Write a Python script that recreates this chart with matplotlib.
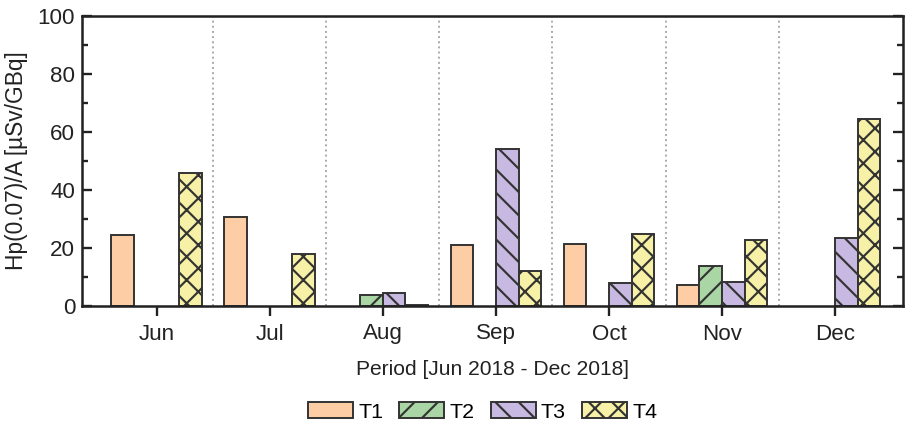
import matplotlib
matplotlib.use("Agg")
import matplotlib.pyplot as plt
from matplotlib.ticker import MultipleLocator
import numpy as np

DPI = 140
W, H = 915, 431

months = ['Jun', 'Jul', 'Aug', 'Sep', 'Oct', 'Nov', 'Dec']
series = ['T1', 'T2', 'T3', 'T4']
t1 = [24.4, 30.7, 0.0, 21.0, 21.4, 7.4, 0.0]
t2 = [0.0, 0.0, 3.8, 0.0, 0.0, 13.8, 0.0]
t3 = [0.0, 0.0, 4.4, 54.1, 7.8, 8.3, 23.6]
t4 = [45.7, 17.9, 0.5, 12.2, 24.7, 22.9, 64.6]

COLORS = ['#FDCDA5', '#A9D6A4', '#C8B9E2', '#F6F1A6']
HATCHES = ['', '//', '\\\\', 'xx']

plt.rcParams['font.family'] = ['Liberation Sans', 'DejaVu Sans']
plt.rcParams['hatch.linewidth'] = 1.1
plt.rcParams['hatch.color'] = '#222222'

fig = plt.figure(figsize=(W / DPI, H / DPI), dpi=DPI)
ax = fig.add_axes([82 / W, 1 - 306 / H, (903 - 82) / W, (306 - 16) / H])

x = np.arange(len(months))
width = 0.2
for k, (name, vals) in enumerate(zip(series, [t1, t2, t3, t4])):
    vals = np.array(vals)
    keep = vals > 0  # empty bars are not drawn in the original
    ax.bar(x[keep] + (k - 1.5) * width, vals[keep], width, color=COLORS[k],
           edgecolor='#333333', linewidth=1.0, hatch=HATCHES[k],
           label=name, zorder=2)

for b in x[:-1] + 0.5:
    ax.axvline(b, color='#aaaaaa', linestyle=':', linewidth=1.0, zorder=1)

ax.set_xlim(-0.66, 6.6)
ax.set_ylim(0, 100)
ax.set_xticks(x)
ax.set_xticklabels(months)
ax.yaxis.set_major_locator(MultipleLocator(20))
ax.yaxis.set_minor_locator(MultipleLocator(10))
ax.tick_params(axis='x', direction='out', length=5, width=1.2,
               labelsize=11.5, colors='#222222', pad=4)
ax.tick_params(axis='y', which='both', direction='in', right=True,
               labelsize=11.5, colors='#222222', width=1.2)
ax.tick_params(axis='y', which='major', length=5)
ax.tick_params(axis='y', which='minor', length=3)
for s in ax.spines.values():
    s.set_linewidth(1.3)
    s.set_color('#222222')

ax.set_xlabel('Period [Jun 2018 - Dec 2018]', fontsize=10.8, color='#222222',
              labelpad=8)
ax.set_ylabel('Hp(0.07)/A [\u00b5Sv/GBq]', fontsize=11.7, color='#222222',
              labelpad=5)

ax.legend(loc='upper center', bbox_to_anchor=(0.488, -0.265), ncol=4,
          frameon=False, fontsize=11, handlelength=2.1, handleheight=0.78,
          handletextpad=0.25, columnspacing=0.75)

fig.savefig('out.png', dpi=DPI)
